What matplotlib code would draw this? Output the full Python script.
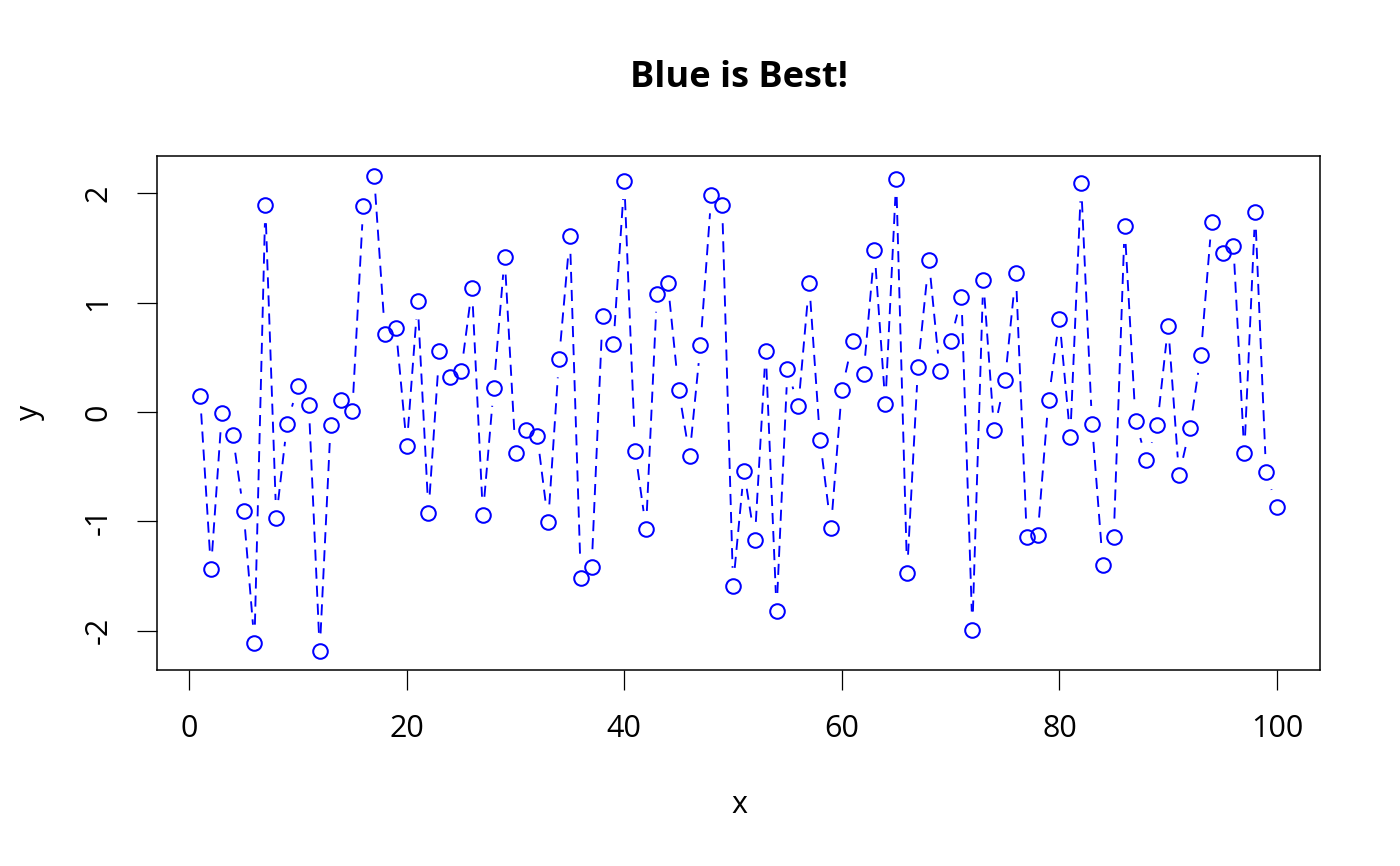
import numpy as np
import matplotlib
matplotlib.use("Agg")
import matplotlib.pyplot as plt

plt.rcParams['font.family'] = ['Open Sans', 'DejaVu Sans']
plt.rcParams['lines.scale_dashes'] = False

# values
x = list(range(1, 101))
y = [0.15, -1.44, -0.01, -0.21, -0.91, -2.11, 1.89, -0.97, -0.11, 0.24,
     0.06, -2.19, -0.12, 0.11, 0.01, 1.88, 2.16, 0.71, 0.77, -0.31,
     1.01, -0.92, 0.56, 0.32, 0.37, 1.13, -0.94, 0.22, 1.42, -0.38,
     -0.17, -0.22, -1.01, 0.48, 1.61, -1.52, -1.42, 0.88, 0.62, 2.11,
     -0.36, -1.07, 1.08, 1.18, 0.20, -0.40, 0.61, 1.98, 1.89, -1.59,
     -0.54, -1.17, 0.56, -1.82, 0.39, 0.05, 1.18, -0.26, -1.06, 0.20,
     0.65, 0.35, 1.48, 0.07, 2.13, -1.47, 0.41, 1.39, 0.37, 0.65,
     1.05, -1.99, 1.21, -0.17, 0.29, 1.27, -1.14, -1.13, 0.11, 0.85,
     -0.23, 2.09, -0.11, -1.40, -1.14, 1.70, -0.08, -0.44, -0.12, 0.79,
     -0.58, -0.15, 0.52, 1.74, 1.45, 1.52, -0.38, 1.83, -0.55, -0.87]
x_ticks = [0, 20, 40, 60, 80, 100]
y_ticks = [-2, -1, 0, 1, 2]

fig = plt.figure(figsize=(14, 8.66), dpi=100)
ax = fig.add_axes([157 / 1400, 1 - 670 / 866, (1320 - 157) / 1400, (670 - 156) / 866])
ax.set_xlim(-2.96, 103.96)
ax.set_ylim(-2.36, 2.34)

# type="b": dashed segments that stop short of each point
gap = 18  # pixels
pts = ax.transData.transform(np.column_stack([x, y]))
inv = ax.transData.inverted()
for p0, p1 in zip(pts[:-1], pts[1:]):
    d = p1 - p0
    length = np.hypot(*d)
    if length <= 2 * gap:
        continue
    u = d / length
    seg = inv.transform(np.array([p0 + u * gap, p1 - u * gap]))
    ax.plot(seg[:, 0], seg[:, 1], color='blue', lw=1.35, ls=(0, (8, 5)),
            dash_capstyle='butt')

ax.plot(x, y, ls='none', marker='o', markersize=10.5, markerfacecolor='none',
        markeredgecolor='blue', markeredgewidth=1.45)

ax.set_xticks(x_ticks)
ax.set_yticks(y_ticks)
ax.set_xticklabels([str(v) for v in x_ticks])
ax.set_yticklabels([str(v) for v in y_ticks], rotation=90, va='center')
ax.tick_params(direction='out', length=14.4, width=0.9, labelsize=22, pad=17)
for s in ax.spines.values():
    s.set_linewidth(1.1)

fig.text(739 / 1400, 1 - 78 / 866, 'Blue is Best!', ha='center', va='center',
         fontsize=26, fontweight='bold')
fig.text(739 / 1400, 1 - 805 / 866, 'x', ha='center', va='center', fontsize=22)
fig.text(30 / 1400, 1 - 412 / 866, 'y', ha='center', va='center', fontsize=22,
         rotation=90)

fig.savefig('out.png', dpi=100)
